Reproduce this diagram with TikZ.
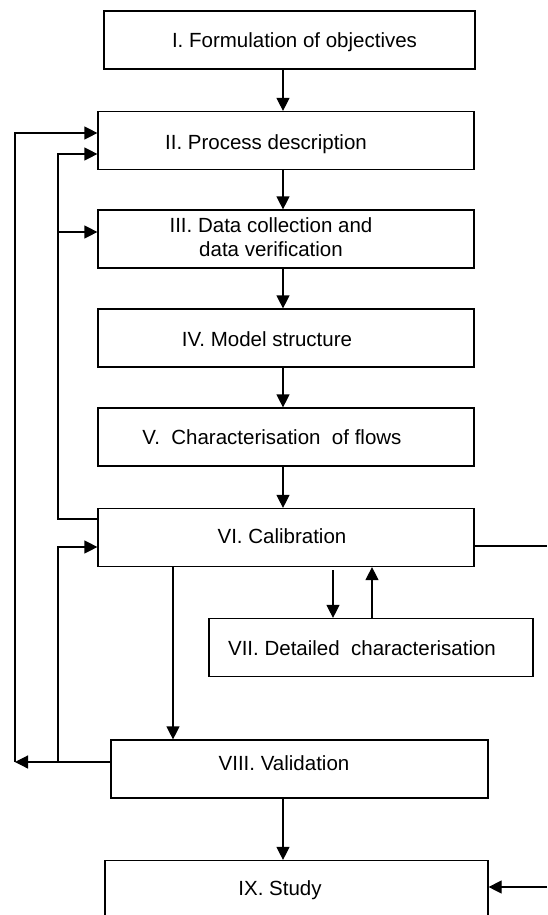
\documentclass[tikz,border=0pt]{standalone}
\usepackage{fontspec}
\setmainfont{Liberation Sans}
\usetikzlibrary{arrows.meta}
\tikzset{
  stage/.style={draw, line width=0.6pt, minimum height=29pt, inner sep=0pt},
  flow/.style={line width=0.6pt, -{Triangle[length=6.5pt,width=6.5pt]}},
  lbl/.style={font=\fontsize{10.25}{12}\selectfont, align=center, yshift=-1pt},
}
\begin{document}
\begin{tikzpicture}[x=0.5pt, y=-0.5pt]
    \clip (0,0) rectangle (547,915);
    % stages
    \node[stage, minimum width=185.5pt] (s1) at (289.5,40) {};
    \node[stage, minimum width=188pt] (s2) at (286,140.5) {};
    \node[stage, minimum width=188pt] (s3) at (286,239) {};
    \node[stage, minimum width=188pt] (s4) at (286,338) {};
    \node[stage, minimum width=188pt] (s5) at (286,437) {};
    \node[stage, minimum width=188pt] (s6) at (286,537.5) {};
    \node[stage, minimum width=162pt] (s7) at (371,647.5) {};
    \node[stage, minimum width=188.5pt] (s8) at (299.5,769) {};
    \node[stage, minimum width=191.5pt] (s9) at (296.5,889.5) {};
    \node[lbl] (t1) at (294.5,40) {I. Formulation of objectives};
    \node[lbl] (t2) at (266,142) {II. Process description};
    \node[lbl] (t3) at (271,235) {III. Data collection and\\data verification};
    \node[lbl] (t4) at (267,337) {IV. Model structure};
    \node[lbl] (t5) at (272,435) {V.\ \ Characterisation\ \ of flows};
    \node[lbl] (t6) at (282,534) {VI. Calibration};
    \node[lbl] (t7) at (362,646) {VII. Detailed\ \ characterisation};
    \node[lbl] (t8) at (284,761) {VIII. Validation};
    \node[lbl] (t9) at (280,888) {IX. Study};
    % main line
    \coordinate (spine) at (283,0);
    \foreach \a/\b in {s1/s2,s2/s3,s3/s4,s4/s5,s5/s6,s8/s9}
      \draw[flow] (\a.south -| spine) -- (\b.north -| spine);
    % loops back
    \coordinate (outer) at (15,762);
    \coordinate (inner) at (58,762);
    \draw[flow] (s8.west |- outer) -- (outer);
    \draw[flow] (outer) |- (s2.west |- 0,133);
    \draw[flow] (s6.west |- 0,519) -- (58,519) |- (s2.west |- 0,154);
    \draw[flow] (58,232) -- (s3.west |- 0,232);
    \draw[flow] (inner) |- (s6.west |- 0,547);
    % calibration
    \draw[flow] (s6.south -| 173,0) -- (s8.north -| 173,0);
    \draw[flow] ([yshift=-1.5pt]s6.south -| 333,0) -- (s7.north -| 333,0);
    \draw[flow] (s7.north -| 372,0) -- (s6.south -| 372,0);
    \draw[line width=0.6pt] (s6.east |- 0,546) -- (547,546);
    \draw[flow] (547,887) -- (s9.east |- 0,887);
\end{tikzpicture}
\end{document}
